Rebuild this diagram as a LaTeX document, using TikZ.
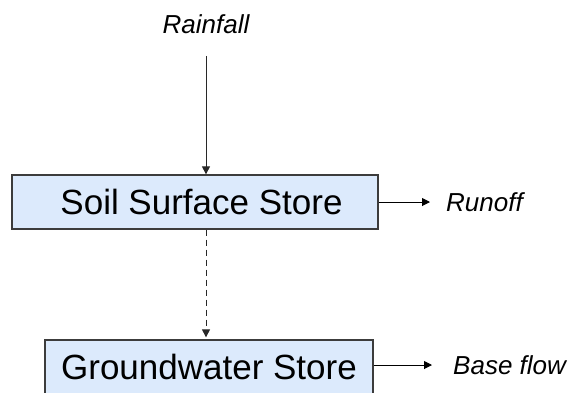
\documentclass[tikz,border=0pt]{standalone}
\usepackage{fontspec}
\setmainfont{Liberation Sans}
\usetikzlibrary{arrows.meta,positioning,calc}
\definecolor{boxblue}{RGB}{220,234,252}
\definecolor{boxedge}{RGB}{60,60,60}
\definecolor{lineDark}{RGB}{40,40,40}
\tikzset{
  storebox/.style={rectangle,draw=boxedge,fill=boxblue,line width=1.3pt,inner sep=0pt,
                   minimum height=54pt,font=\fontsize{35}{40}\selectfont},
  flowlabel/.style={inner sep=0pt,font=\fontsize{26}{30}\selectfont\itshape},
  arr/.style={-{Triangle[length=8pt,width=8pt]},line width=1pt,color=lineDark},
  dasharr/.style={arr,dash pattern=on 6pt off 4pt}
}

\begin{document}
\begin{tikzpicture}[x=1pt,y=-1pt]
  \useasboundingbox (0,0) rectangle (571,392);

  \node[flowlabel] (rain) at (206,24) {Rainfall};
  \node[storebox,minimum width=366pt] (soil) at (195,202) {\hspace{13pt}Soil Surface Store};
  \node[storebox,minimum width=328pt] (gw) at (209,367) {Groundwater Store};
  \node[flowlabel,anchor=west] (runoff) at (446,202) {Runoff};
  \node[flowlabel,anchor=west] (base) at (453,365) {Base flow};

  \draw[arr,shorten <=22pt] (rain.south) -- (rain.south |- soil.north);
  \draw[dasharr,shorten >=2pt] (rain |- soil.south) -- (rain |- gw.north);
  \draw[arr,color=black,shorten >=16pt] (soil.east) -- (runoff.west);
  \draw[arr,color=black,shorten >=21pt] (gw.east |- base) -- (base.west);
\end{tikzpicture}
\end{document}
